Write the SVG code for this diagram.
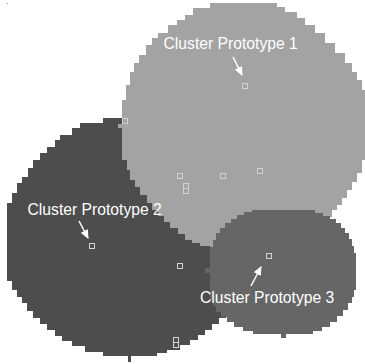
<svg xmlns="http://www.w3.org/2000/svg" width="365" height="364" viewBox="0 0 365 364">
<style>
.dark{fill:#4d4d4d}
.light{fill:#a3a3a3}
.mid{fill:#666666}
.pt{fill:none;stroke:#d2d2d2;stroke-width:1}
.lbl{font-family:"Liberation Sans",Arial,sans-serif;font-size:15.7px;fill:#ffffff}
.arr{stroke:#ffffff;stroke-width:1.5;fill:none}
</style>
<defs>
<marker id="ah" markerUnits="userSpaceOnUse" markerWidth="9" markerHeight="8" refX="8" refY="4" orient="auto">
<path d="M0,0 L9,4 L0,8 Z" fill="#ffffff"/>
</marker>
</defs>
<rect width="365" height="364" fill="#ffffff"/>
<rect x="7" y="3" width="1" height="1" fill="#9a9a9a"/>
<g id="regions" shape-rendering="crispEdges">
<path id="cluster2" class="dark" d="M103,118 H140 L200,170 L225,240 L230,300 L226,313 V318 H219 V324 H212 V330 H205 V335 H198 V340 H190 V345 H180 V350 H167 V353 H157 V356 H131 V362 H128 V356 H103 V352 H85 V346 H72 V341 H62 V336 H55 V330 H47 V324 H40 V318 H33 V311 H27 V303 H22 V297 H17 V290 H12 V281 H7 V203 H12 V193 H17 V183 H22 V177 H28 V168 H33 V160 H40 V153 H47 V147 H55 V140 H60 V135 H72 V128 H80 V123 H103 Z"/>
<path id="cluster1" class="light" d="M210,3 H277 V7 H285 V12 H297 V18 H305 V25 H315 V33 H325 V43 H335 V53 H345 V63 H352 V72 H357 V80 H362 V90 H366 V160 H362 V173 H357 V182 H352 V190 H347 V198 H342 V205 H337 V210 H332 V217 H328 L322,222 L300,226 L250,236 L211,248 H210 V246 H200 V243 H192 V240 H185 V234 H178 V228 H170 V222 H164 V216 H158 V210 H152 V203 H147 V195 H140 V187 H135 V180 H130 V170 H127 V160 H122 V100 H126 V85 H130 V72 H134 V63 H139 V55 H146 V45 H152 V38 H158 V33 H168 V25 H177 V20 H185 V15 H193 V8 H210 Z"/>
<rect class="light" x="118" y="124" width="4" height="4"/>
<path id="cluster3" class="mid" d="M252,210 H315 V213 H323 V216 H330 V219 H336 V223 H341 V228 H345 V233 H349 V239 H352 V246 H354 V253 H356 V290 H354 V297 H352 V303 H348 V310 H343 V316 H337 V322 H330 V327 H322 V331 H313 V334 H286 V338 H281 V334 H253 V331 H243 V327 H234 V322 H227 V317 H221 V312 H216 V306 H213 V300 H210 V273 H205 V268 H210 V247 H213 V240 H216 V233 H220 V228 H225 V223 H231 V219 H237 V215 H244 V212 H252 Z"/>
</g>
<g id="points">
<rect class="pt" x="242.5" y="83.5" width="5" height="5"/>
<rect class="pt" x="89.5" y="243.5" width="5" height="5"/>
<rect class="pt" x="266.5" y="253.5" width="5" height="5"/>
<rect class="pt" x="122.5" y="118.5" width="5" height="5"/>
<rect class="pt" x="177.5" y="173.5" width="5" height="5"/>
<rect class="pt" x="183.5" y="183.5" width="5" height="5"/>
<rect class="pt" x="183.5" y="188.5" width="5" height="5"/>
<rect class="pt" x="220.5" y="173.5" width="5" height="5"/>
<rect class="pt" x="257.5" y="168.5" width="5" height="5"/>
<rect class="pt" x="177.5" y="263.5" width="5" height="5"/>
<rect class="pt" x="173.5" y="337.5" width="5" height="5"/>
<rect class="pt" x="173.5" y="342.5" width="5" height="5"/>
</g>
<g id="connectors">
<line class="arr" x1="233" y1="57" x2="242" y2="75" marker-end="url(#ah)"/>
<line class="arr" x1="79" y1="221" x2="88" y2="238" marker-end="url(#ah)"/>
<line class="arr" x1="251" y1="286" x2="261" y2="267" marker-end="url(#ah)"/>
</g>
<g id="label1"><text class="lbl" x="163.5" y="49">Cluster Prototype 1</text></g>
<g id="label2"><text class="lbl" x="27.5" y="215">Cluster Prototype 2</text></g>
<g id="label3"><text class="lbl" x="200" y="303">Cluster Prototype 3</text></g>
</svg>
